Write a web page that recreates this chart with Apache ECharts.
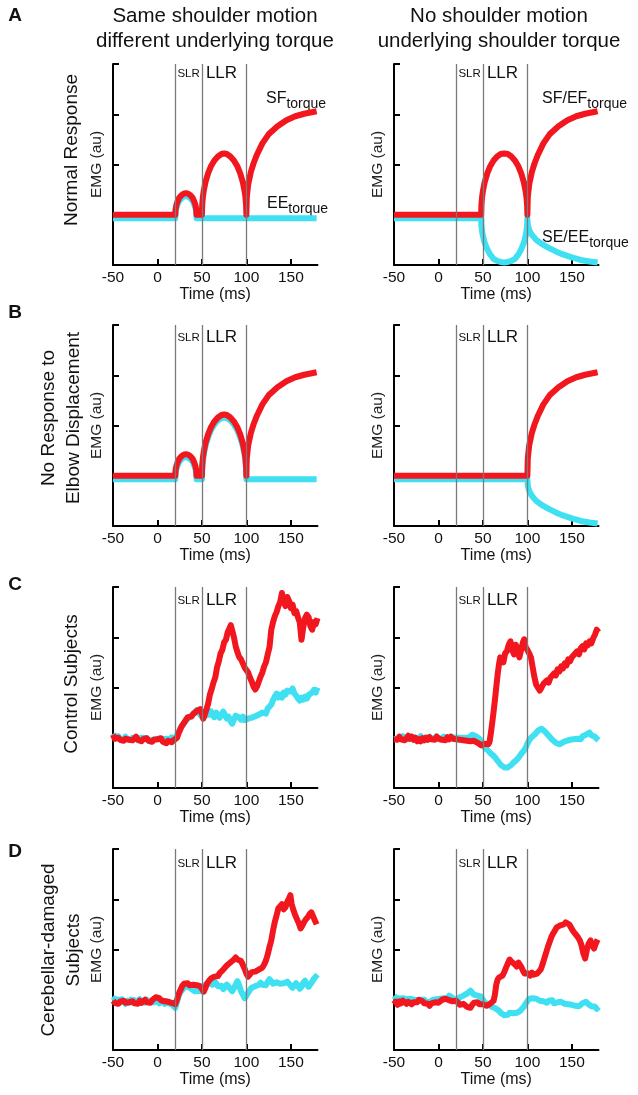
<!DOCTYPE html>
<html><head><meta charset="utf-8">
<script src="https://cdn.jsdelivr.net/npm/echarts@6/dist/echarts.min.js"></script>
<style>html,body{margin:0;padding:0;background:#fff}#c{width:638px;height:1095px}</style>
</head><body><div id="c"></div>
<script>
// ---------- DATA ----------
const X_TICKS = [-50, 0, 50, 100, 150];
const Y_TICKS = [2, 3, 4];
const MARKERS = [20, 50, 100];           // SLR start, LLR start, LLR end (ms)
const COL_TITLES = [['Same shoulder motion', 'different underlying torque'], ['No shoulder motion', 'underlying shoulder torque']];
const ROW_TITLES = ['Normal Response', 'No Response to\nElbow Displacement', 'Control Subjects', 'Cerebellar-damaged\nSubjects'];
const ROW_LETTERS = ['A', 'B', 'C', 'D'];

// Panel A, left (SF torque = red, EE torque = cyan)
const A_L_SF = [[-50,1],[20,1],[20.4,1.11],[21.2,1.19],[22.5,1.26],[24.5,1.34],[27,1.39],[29.5,1.42],[32,1.43],[34.5,1.42],[37,1.39],[39.5,1.34],[41.5,1.26],[42.8,1.19],[43.6,1.11],[44,1],[50,1],[50.3,1.19],[51,1.34],[52,1.47],[54,1.65],[57,1.83],[60,1.96],[64,2.08],[68,2.16],[72,2.21],[75,2.22],[78,2.21],[82,2.16],[86,2.08],[90,1.96],[93,1.83],[96,1.65],[98,1.47],[99,1.34],[99.7,1.19],[100,1],[100.5,1.35],[102,1.6],[105,1.85],[108,2.02],[112,2.2],[118,2.42],[125,2.6],[135,2.76],[145,2.88],[155,2.96],[165,3.01],[179,3.06]];
const A_L_EE = [[-50,0.93],[20,0.93],[20.4,1.05],[21.2,1.13],[22.5,1.2],[24.5,1.28],[27,1.33],[29.5,1.36],[32,1.37],[34.5,1.36],[37,1.33],[39.5,1.28],[41.5,1.2],[42.8,1.13],[43.6,1.05],[44,0.93],[179,0.93]];
// Panel A, right
const A_R_SF = [[-50,1],[48,1],[48.3,1.19],[49,1.34],[50,1.47],[52,1.65],[55,1.83],[58,1.96],[62,2.08],[66,2.16],[70,2.21],[74,2.22],[78,2.21],[82,2.16],[86,2.08],[90,1.96],[93,1.83],[96,1.65],[98,1.47],[99,1.34],[99.7,1.19],[100,1],[100.5,1.35],[102,1.6],[105,1.85],[108,2.02],[112,2.2],[118,2.42],[125,2.6],[135,2.76],[145,2.88],[155,2.96],[165,3.01],[179,3.06]];
const A_R_SE = [[-50,0.93],[48,0.93],[48.3,0.79],[49,0.68],[50,0.58],[52,0.44],[55,0.31],[58,0.21],[62,0.12],[66,0.08],[70,0.06],[74,0.05],[78,0.06],[82,0.08],[86,0.12],[90,0.21],[93,0.31],[96,0.44],[98,0.58],[99,0.68],[99.7,0.79],[100,0.93],[100.5,0.8],[102,0.7],[105,0.6],[110,0.5],[116,0.42],[124,0.34],[132,0.27],[140,0.21],[150,0.15],[160,0.1],[170,0.07],[179,0.05]];
// Panel B, left
const B_L_SF = [[-50,1],[20,1],[20.4,1.11],[21.2,1.19],[22.5,1.26],[24.5,1.34],[27,1.39],[29.5,1.42],[32,1.43],[34.5,1.42],[37,1.39],[39.5,1.34],[41.5,1.26],[42.8,1.19],[43.6,1.11],[44,1],[50,1],[50.3,1.19],[51,1.34],[52,1.47],[54,1.65],[57,1.83],[60,1.96],[64,2.08],[68,2.16],[72,2.21],[75,2.22],[78,2.21],[82,2.16],[86,2.08],[90,1.96],[93,1.83],[96,1.65],[98,1.47],[99,1.34],[99.7,1.19],[100,1],[100.5,1.35],[102,1.6],[105,1.85],[108,2.02],[112,2.2],[118,2.42],[125,2.6],[135,2.76],[145,2.88],[155,2.96],[165,3.01],[179,3.06]];
const B_L_EE = [[-50,0.93],[20,0.93],[20.4,1.05],[21.2,1.13],[22.5,1.2],[24.5,1.28],[27,1.33],[29.5,1.36],[32,1.37],[34.5,1.36],[37,1.33],[39.5,1.28],[41.5,1.2],[42.8,1.13],[43.6,1.05],[44,0.93],[50,0.93],[50.3,1.13],[51,1.28],[52,1.41],[54,1.59],[57,1.77],[60,1.9],[64,2.02],[68,2.1],[72,2.15],[75,2.16],[78,2.15],[82,2.1],[86,2.02],[90,1.9],[93,1.77],[96,1.59],[98,1.41],[99,1.28],[99.7,1.13],[100,0.93],[179,0.93]];
// Panel B, right
const B_R_SF = [[-50,1],[100,1],[100.5,1.35],[102,1.6],[105,1.85],[108,2.02],[112,2.2],[118,2.42],[125,2.6],[135,2.76],[145,2.88],[155,2.96],[165,3.01],[179,3.06]];
const B_R_SE = [[-50,0.93],[100,0.93],[100.5,0.8],[102,0.7],[105,0.6],[110,0.5],[116,0.42],[124,0.34],[132,0.27],[140,0.21],[150,0.15],[160,0.1],[170,0.07],[179,0.05]];
// Panel C, left (control subjects)
const C_L_SF = [[-50,1.06],[-48,0.98],[-46,0.95],[-44,1.0],[-42,0.96],[-40,0.99],[-38,0.94],[-36,0.98],[-34,1.01],[-32,0.96],[-30,0.99],[-28,0.95],[-26,0.97],[-24,1.02],[-22,0.96],[-20,0.98],[-18,0.93],[-16,0.97],[-14,0.95],[-12,0.99],[-10,0.94],[-8,0.97],[-6,0.92],[-4,0.96],[-2,0.93],[0,0.97],[2,0.94],[4,0.99],[6,0.92],[8,0.95],[10,0.89],[12,0.94],[14,0.97],[16,0.91],[18,0.95],[20,0.92],[22,1.0],[24,1.1],[26,1.18],[28,1.25],[30,1.3],[32,1.36],[34,1.41],[36,1.44],[38,1.42],[40,1.47],[42,1.5],[44,1.53],[46,1.5],[48,1.57],[50,1.48],[51.5,1.38],[53,1.45],[55,1.56],[57,1.68],[59,1.86],[61,1.97],[63,2.1],[65,2.2],[67,2.4],[69,2.52],[71,2.68],[73,2.75],[75,2.9],[77,2.95],[79,3.1],[81,3.18],[82.5,3.24],[84,3.14],[86,3.0],[88,2.82],[90,2.7],[92,2.6],[94,2.56],[96,2.48],[98,2.4],[100,2.38],[102,2.3],[104,2.2],[106,2.12],[108,2.02],[110,1.96],[112,2.02],[114,2.12],[116,2.22],[118,2.3],[120,2.42],[122,2.5],[124,2.66],[126,2.8],[128,3.15],[130,3.3],[132,3.42],[134,3.5],[136,3.62],[138,3.7],[140,3.88],[142,3.7],[144,3.62],[146,3.8],[148,3.72],[150,3.58],[152,3.65],[154,3.48],[156,3.52],[158,3.4],[160,3.3],[162,2.95],[164,3.2],[166,3.38],[168,3.45],[170,3.4],[172,3.22],[174,3.15],[176,3.3],[178,3.26],[180,3.38]];
const C_L_EE = [[-50,1.08],[-48,1.02],[-46,0.99],[-44,1.03],[-42,0.98],[-40,1.0],[-38,0.97],[-36,1.02],[-34,0.98],[-32,1.0],[-30,0.96],[-28,1.0],[-26,0.97],[-24,0.99],[-22,0.95],[-20,0.99],[-18,0.96],[-16,1.0],[-14,0.97],[-12,0.99],[-10,0.95],[-8,0.98],[-6,0.96],[-4,0.99],[-2,0.97],[0,1.0],[2,0.98],[4,1.01],[6,0.97],[8,1.0],[10,0.98],[12,1.0],[14,0.97],[16,1.01],[18,0.98],[20,0.97],[22,1.05],[24,1.12],[26,1.2],[28,1.25],[30,1.3],[32,1.33],[34,1.38],[36,1.4],[38,1.43],[40,1.45],[42,1.5],[44,1.55],[46,1.5],[48,1.46],[50,1.42],[52,1.48],[54,1.44],[56,1.52],[58,1.46],[60,1.53],[62,1.45],[64,1.41],[66,1.5],[68,1.44],[70,1.4],[72,1.47],[74,1.52],[76,1.45],[78,1.38],[80,1.42],[82,1.34],[84,1.28],[86,1.36],[88,1.44],[90,1.47],[92,1.4],[94,1.36],[96,1.42],[98,1.35],[100,1.32],[102,1.38],[104,1.36],[106,1.4],[108,1.38],[110,1.43],[112,1.4],[114,1.46],[116,1.44],[118,1.5],[120,1.52],[122,1.48],[124,1.58],[126,1.6],[128,1.66],[130,1.75],[132,1.82],[134,1.88],[136,1.8],[138,1.86],[140,1.8],[142,1.9],[144,1.86],[146,1.94],[148,1.97],[150,1.92],[152,1.98],[154,1.88],[156,1.84],[158,1.78],[160,1.74],[162,1.8],[164,1.76],[166,1.82],[168,1.78],[170,1.85],[172,1.82],[174,1.9],[176,1.95],[178,1.9],[180,2.0]];
// Panel C, right
const C_R_SF = [[-50,0.97],[-48,1.0],[-46,0.96],[-44,1.02],[-42,0.97],[-40,1.0],[-38,0.95],[-36,0.99],[-34,1.04],[-32,0.98],[-30,1.02],[-28,0.96],[-26,1.0],[-24,0.93],[-22,0.97],[-20,0.93],[-18,0.99],[-16,0.95],[-14,1.0],[-12,0.96],[-10,1.01],[-8,0.97],[-6,1.0],[-4,0.96],[-2,1.02],[0,0.98],[2,1.0],[4,0.96],[6,0.99],[8,0.95],[10,1.01],[12,0.97],[14,1.02],[16,0.98],[18,1.0],[20,0.97],[22,1.0],[24,0.96],[26,0.99],[28,0.95],[30,0.98],[32,0.94],[34,0.97],[36,0.93],[38,0.96],[40,0.94],[42,0.91],[44,0.9],[46,0.87],[48,0.85],[50,0.84],[52,0.88],[54,0.86],[56,0.87],[57.5,0.92],[59,1.1],[60.5,1.3],[62,1.52],[63.5,1.75],[65,2.0],[66.5,2.25],[68,2.45],[69.5,2.6],[71,2.55],[73,2.5],[75,2.68],[77,2.72],[79,2.85],[81,2.92],[83,2.75],[85,2.66],[87,2.85],[89,2.75],[91,2.6],[93,2.62],[95,2.9],[96.5,2.96],[98,2.8],[100,2.75],[102,2.68],[104,2.6],[106,2.4],[108,2.2],[110,2.05],[112,2.02],[114,1.94],[116,2.0],[118,2.07],[120,2.04],[122,2.14],[124,2.1],[126,2.2],[128,2.18],[130,2.28],[132,2.24],[134,2.36],[136,2.32],[138,2.42],[140,2.38],[142,2.48],[144,2.44],[146,2.56],[148,2.52],[150,2.6],[152,2.57],[154,2.68],[156,2.72],[158,2.66],[160,2.78],[162,2.82],[164,2.76],[166,2.88],[168,2.84],[170,2.92],[172,2.88],[174,2.98],[176,3.05],[178,3.15],[180,3.1]];
const C_R_SE = [[-50,0.97],[-48,1.0],[-46,0.98],[-44,1.02],[-42,0.99],[-40,1.03],[-38,0.98],[-36,1.01],[-34,0.97],[-32,1.0],[-30,1.02],[-28,0.98],[-26,1.01],[-24,0.97],[-22,1.0],[-20,1.03],[-18,0.99],[-16,1.01],[-14,0.97],[-12,1.0],[-10,1.02],[-8,0.98],[-6,1.01],[-4,0.99],[-2,1.03],[0,1.0],[2,0.97],[4,1.0],[6,1.02],[8,0.98],[10,1.01],[12,0.98],[14,1.02],[16,0.99],[18,1.0],[20,0.97],[22,1.0],[24,1.03],[26,1.0],[28,0.98],[30,1.0],[32,0.97],[34,1.0],[36,1.02],[38,1.06],[40,1.08],[42,1.03],[44,1.0],[46,0.98],[48,0.93],[50,0.86],[52,0.8],[54,0.77],[56,0.74],[58,0.7],[60,0.67],[62,0.64],[64,0.6],[66,0.55],[68,0.51],[70,0.46],[72,0.43],[74,0.41],[76,0.4],[78,0.41],[80,0.42],[82,0.46],[84,0.5],[86,0.53],[88,0.56],[90,0.6],[92,0.65],[94,0.7],[96,0.74],[98,0.8],[100,0.88],[102,0.95],[104,1.0],[106,1.03],[108,1.06],[110,1.1],[112,1.14],[114,1.15],[116,1.18],[118,1.17],[120,1.12],[122,1.08],[124,1.04],[126,1.0],[128,0.96],[130,0.93],[132,0.9],[134,0.88],[136,0.87],[138,0.9],[140,0.91],[142,0.89],[144,0.94],[146,0.92],[148,0.96],[150,0.95],[152,0.97],[154,0.94],[156,0.98],[158,1.0],[160,0.97],[162,1.03],[164,1.01],[166,1.06],[168,1.08],[170,1.1],[172,1.05],[174,1.07],[176,1.02],[178,0.98],[180,0.95]];
// Panel D, left (cerebellar-damaged subjects)
const D_L_SF = [[-50,0.98],[-48,0.94],[-46,0.97],[-44,0.92],[-42,0.96],[-40,0.93],[-38,0.98],[-36,0.94],[-34,0.91],[-32,0.95],[-30,0.92],[-28,0.97],[-26,0.93],[-24,0.96],[-22,0.92],[-20,0.98],[-18,0.94],[-16,0.97],[-14,1.0],[-12,0.95],[-10,0.98],[-8,0.94],[-6,0.99],[-4,1.02],[-2,1.05],[0,1.07],[2,1.03],[4,0.99],[6,1.02],[8,0.97],[10,1.0],[12,0.96],[14,0.98],[16,0.94],[18,0.96],[20,0.91],[22,1.0],[24,1.12],[26,1.2],[28,1.28],[30,1.32],[32,1.3],[34,1.33],[36,1.29],[38,1.32],[40,1.3],[42,1.33],[44,1.29],[46,1.31],[48,1.27],[50,1.22],[52,1.16],[54,1.24],[56,1.33],[58,1.38],[60,1.42],[62,1.4],[64,1.46],[66,1.49],[68,1.47],[70,1.53],[72,1.56],[74,1.6],[76,1.64],[78,1.68],[80,1.7],[82,1.74],[84,1.72],[86,1.8],[88,1.84],[90,1.8],[92,1.82],[94,1.77],[96,1.74],[98,1.62],[100,1.52],[102,1.46],[104,1.5],[106,1.55],[108,1.52],[110,1.56],[112,1.55],[114,1.6],[116,1.58],[118,1.64],[120,1.7],[122,1.78],[124,1.9],[126,2.05],[128,2.18],[130,2.38],[132,2.55],[134,2.68],[136,2.82],[138,2.86],[140,2.9],[142,2.8],[144,2.84],[146,2.95],[148,3.02],[149.5,3.08],[151,2.9],[153,2.78],[155,2.68],[157,2.6],[159,2.52],[161,2.42],[163,2.48],[165,2.55],[167,2.6],[169,2.64],[171,2.7],[173,2.74],[175,2.66],[177,2.58],[179,2.5]];
const D_L_EE = [[-50,0.98],[-48,1.02],[-46,0.93],[-44,1.0],[-42,0.95],[-40,1.01],[-38,0.96],[-36,0.92],[-34,0.98],[-32,0.94],[-30,1.0],[-28,0.95],[-26,0.99],[-24,0.94],[-22,0.97],[-20,1.01],[-18,0.95],[-16,0.98],[-14,0.94],[-12,1.0],[-10,0.96],[-8,0.93],[-6,0.99],[-4,0.95],[-2,1.0],[0,0.97],[2,0.93],[4,0.98],[6,0.95],[8,0.92],[10,0.97],[12,0.93],[14,0.96],[16,0.91],[18,0.9],[20,0.84],[22,0.96],[24,1.08],[26,1.16],[28,1.2],[30,1.24],[32,1.26],[34,1.27],[36,1.25],[38,1.22],[40,1.21],[42,1.17],[44,1.14],[46,1.18],[48,1.15],[50,1.17],[52,1.24],[54,1.3],[56,1.27],[58,1.33],[60,1.34],[62,1.3],[64,1.37],[66,1.33],[68,1.27],[70,1.24],[72,1.28],[74,1.21],[76,1.24],[78,1.3],[80,1.27],[82,1.22],[84,1.17],[86,1.23],[88,1.3],[90,1.37],[92,1.28],[94,1.17],[96,1.1],[98,1.03],[100,1.08],[102,1.14],[104,1.2],[106,1.24],[108,1.22],[110,1.27],[112,1.25],[114,1.3],[116,1.34],[118,1.3],[120,1.33],[122,1.29],[124,1.36],[126,1.41],[128,1.37],[130,1.32],[132,1.3],[134,1.35],[136,1.38],[138,1.32],[140,1.29],[142,1.33],[144,1.3],[146,1.36],[148,1.33],[150,1.28],[152,1.24],[154,1.29],[156,1.33],[158,1.28],[160,1.22],[162,1.26],[164,1.34],[166,1.38],[168,1.3],[170,1.26],[172,1.28],[174,1.36],[176,1.42],[178,1.46],[180,1.5]];
// Panel D, right
const D_R_SF = [[-50,0.91],[-48,0.96],[-46,0.9],[-44,0.97],[-42,0.93],[-40,0.98],[-38,0.95],[-36,0.92],[-34,0.96],[-32,0.93],[-30,0.91],[-28,0.95],[-26,0.98],[-24,0.95],[-22,1.0],[-20,1.01],[-18,0.97],[-16,0.93],[-14,0.9],[-12,0.92],[-10,0.88],[-8,0.93],[-6,0.9],[-4,0.95],[-2,0.92],[0,0.94],[2,0.97],[4,1.0],[6,0.98],[8,1.02],[10,1.04],[12,0.99],[14,1.01],[16,0.97],[18,1.0],[20,0.98],[22,0.95],[24,0.9],[26,0.88],[28,0.92],[30,0.9],[32,0.86],[34,0.88],[36,0.84],[38,0.9],[40,0.94],[42,0.92],[44,0.95],[46,0.91],[48,0.93],[50,0.91],[52,0.9],[54,0.88],[56,0.9],[58,0.92],[60,0.94],[62,0.98],[63.5,1.1],[65,1.3],[66.5,1.4],[68,1.44],[70,1.43],[72,1.48],[74,1.55],[76,1.64],[78,1.72],[80,1.8],[82,1.76],[84,1.74],[86,1.7],[88,1.66],[90,1.74],[91.5,1.77],[93,1.66],[95,1.58],[97,1.52],[99,1.5],[101,1.52],[103,1.48],[105,1.54],[107,1.5],[109,1.48],[111,1.52],[113,1.55],[115,1.6],[117,1.7],[119,1.82],[121,1.93],[123,2.05],[125,2.15],[127,2.25],[129,2.32],[131,2.38],[133,2.44],[135,2.46],[137,2.48],[139,2.45],[141,2.5],[143,2.54],[145,2.55],[147,2.5],[149,2.44],[151,2.38],[153,2.33],[155,2.3],[157,2.24],[159,2.18],[161,2.08],[163,1.92],[165,1.82],[167,2.0],[169,2.12],[171,2.18],[173,2.08],[175,2.02],[177,2.12],[179,2.2]];
const D_R_SE = [[-50,1.08],[-48,1.04],[-46,1.07],[-44,1.02],[-42,1.05],[-40,1.03],[-38,1.06],[-36,1.01],[-34,1.04],[-32,1.02],[-30,1.05],[-28,1.0],[-26,1.03],[-24,0.99],[-22,1.02],[-20,1.0],[-18,0.97],[-16,1.0],[-14,0.96],[-12,0.99],[-10,0.95],[-8,0.98],[-6,1.0],[-4,0.97],[-2,1.01],[0,0.98],[2,1.02],[4,0.99],[6,1.03],[8,1.05],[10,1.02],[12,1.08],[14,1.1],[16,1.04],[18,1.0],[20,1.03],[22,1.0],[24,1.05],[26,1.02],[28,1.08],[30,1.06],[32,1.12],[34,1.1],[36,1.18],[38,1.14],[40,1.1],[42,1.13],[44,1.08],[46,1.1],[48,1.06],[50,1.0],[52,0.95],[54,0.93],[56,0.91],[58,0.9],[60,0.86],[62,0.85],[64,0.83],[66,0.8],[68,0.78],[70,0.74],[72,0.71],[74,0.69],[76,0.68],[78,0.7],[80,0.74],[82,0.75],[84,0.73],[86,0.76],[88,0.74],[90,0.77],[92,0.78],[94,0.82],[96,0.86],[98,0.92],[100,0.97],[102,1.02],[104,1.05],[106,1.03],[108,1.06],[110,1.02],[112,1.01],[114,0.98],[116,1.0],[118,0.97],[120,0.96],[122,0.94],[124,0.98],[126,0.96],[128,0.99],[130,0.93],[132,0.91],[134,0.95],[136,0.93],[138,0.96],[140,0.94],[142,0.92],[144,0.95],[146,0.91],[148,0.93],[150,0.9],[152,0.92],[154,0.88],[156,0.85],[158,0.87],[160,0.9],[162,0.93],[164,0.9],[166,0.96],[168,0.92],[170,0.9],[172,0.87],[174,0.84],[176,0.86],[178,0.82],[180,0.86]];

// ---------- LAYOUT / STYLE ----------
const FONT = "'Liberation Sans', Arial, Helvetica, sans-serif";
const RED = '#f2161f', CYAN = '#3ee0f1', INK = '#111';
const COLS = [113, 394], ROWS = [64, 325, 587, 849], W = 204.5, H = 201;
const XMIN = -50, XMAX = 180;
const PANELS = [
  {r:0,c:0,red:A_L_SF,cyan:A_L_EE,smooth:true},{r:0,c:1,red:A_R_SF,cyan:A_R_SE,smooth:true},
  {r:1,c:0,red:B_L_SF,cyan:B_L_EE,smooth:true},{r:1,c:1,red:B_R_SF,cyan:B_R_SE,smooth:true},
  {r:2,c:0,red:C_L_SF,cyan:C_L_EE},{r:2,c:1,red:C_R_SF,cyan:C_R_SE},
  {r:3,c:0,red:D_L_SF,cyan:D_L_EE},{r:3,c:1,red:D_R_SF,cyan:D_R_SE}
];

const grid = [], xAxis = [], yAxis = [], series = [];
PANELS.forEach((p, i) => {
  grid.push({left: COLS[p.c], top: ROWS[p.r], width: W, height: H});
  xAxis.push({type:'value', gridIndex:i, min:XMIN, max:XMAX, interval:50,
    axisLine:{show:true, onZero:false, lineStyle:{color:'#000', width:2}},
    axisTick:{show:true, inside:true, length:6, customValues:X_TICKS.slice(1), lineStyle:{color:'#000', width:2}},
    axisLabel:{show:true, customValues:X_TICKS, margin:5, fontSize:15.5, color:INK, fontFamily:FONT},
    splitLine:{show:false},
    name:'Time (ms)', nameLocation:'middle', nameGap:22, nameTextStyle:{fontSize:16, color:INK, fontFamily:FONT}});
  yAxis.push({type:'value', gridIndex:i, min:0, max:4, interval:1,
    axisLine:{show:true, onZero:false, lineStyle:{color:'#000', width:2}},
    axisTick:{show:true, inside:true, length:6, customValues:Y_TICKS, lineStyle:{color:'#000', width:2}},
    axisLabel:{show:false}, splitLine:{show:false},
    name:'EMG (au)', nameLocation:'middle', nameRotate:90, nameGap:8,
    nameTextStyle:{fontSize:15.5, color:'#222', fontFamily:FONT}});
  const lw = p.smooth ? 6 : 6;
  series.push({type:'line', xAxisIndex:i, yAxisIndex:i, data:[], z:1, silent:true,
    markLine:{silent:true, symbol:['none','none'], label:{show:false}, animation:false,
      lineStyle:{color:'#7a7a7a', width:1.3, type:'solid'}, data: MARKERS.map(v => ({xAxis:v}))}});
  series.push({type:'line', xAxisIndex:i, yAxisIndex:i, data:p.cyan, showSymbol:false, symbol:'none', z:2,
    lineStyle:{color:CYAN, width:lw, join:'round'}});
  series.push({type:'line', xAxisIndex:i, yAxisIndex:i, data:p.red, showSymbol:false, symbol:'none', z:3,
    lineStyle:{color:RED, width:lw, join:'round'}});
});

// ---------- TEXT ----------
const px = (ms, c) => COLS[c] + (ms - XMIN) / (XMAX - XMIN) * W;
const graphic = [];
const T = (x, y, text, opt) => graphic.push(Object.assign({type:'text', x, y, silent:true,
  style:Object.assign({text, fill:INK, fontFamily:FONT, fontSize:16, align:'center', verticalAlign:'middle'}, opt && opt.style)},
  opt && opt.rotation !== undefined ? {rotation: opt.rotation} : {}));

ROW_LETTERS.forEach((l, r) => T(15, [16, 313, 585, 852][r], l, {style:{fontSize:19, fontWeight:'bold', fontFamily:'Arial, ' + FONT}}));
[215, 499].forEach((cx, c) => {
  T(cx, 16, COL_TITLES[c][0], {style:{fontSize:20.5}});
  T(cx, 41, COL_TITLES[c][1], {style:{fontSize:20.5}});
});
const rowLab = [[72,150],[61.5,418],[72,684],[61.5,950]];
ROW_TITLES.forEach((t, r) => T(rowLab[r][0], rowLab[r][1], t, {rotation:Math.PI/2, style:{fontSize:19, lineHeight:24.5}}));
const SLR_OFF = [9, 12, 13, 14];
ROWS.forEach((top, r) => [0,1].forEach(c => {
  T(px(35, c), top + SLR_OFF[r] + 1, 'SLR', {style:{fontSize:11.5}});
  T(px(54.5, c), top + SLR_OFF[r], 'LLR', {style:{fontSize:17, align:'left'}});
}));
const ctx = document.createElement('canvas').getContext('2d');
function subLabel(x, y, main, sub) {
  ctx.font = '16px ' + FONT;
  const w = ctx.measureText(main).width;
  T(x, y, main, {style:{fontSize:16, align:'left'}});
  T(x + w, y + 5, sub, {style:{fontSize:14, align:'left'}});
}
subLabel(266, 99, 'SF', 'torque');
subLabel(267, 204, 'EE', 'torque');
subLabel(542, 99, 'SF/EF', 'torque');
subLabel(542, 238, 'SE/EE', 'torque');

const chart = echarts.init(document.getElementById('c'), null, {renderer:'canvas'});
chart.setOption({animation:false, backgroundColor:'#fff', grid, xAxis, yAxis, series, graphic});
</script></body></html>
